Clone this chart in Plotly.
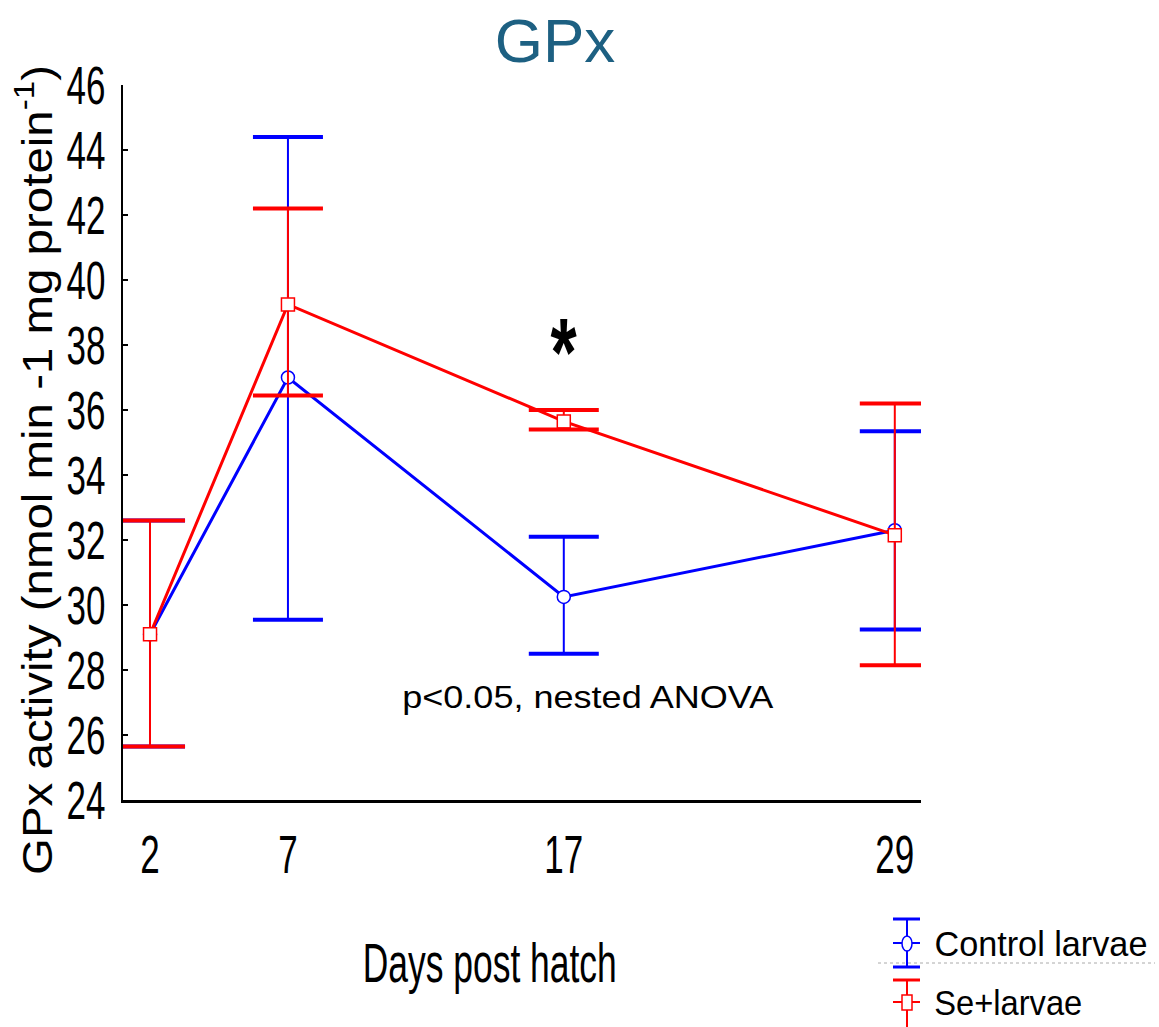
import plotly.graph_objects as go

# ---------------- data ----------------
days = [2, 7, 17, 29]
day_labels = ["2", "7", "17", "29"]

ctrl_mean = [29.1, 37.0, 30.25, 32.3]
ctrl_upper = [32.6, 44.4, 32.1, 35.35]
ctrl_lower = [25.65, 29.55, 28.5, 29.25]

se_mean = [29.1, 39.25, 35.65, 32.15]
se_upper = [32.6, 42.2, 36.0, 36.2]
se_lower = [25.65, 36.45, 35.4, 28.15]

y_ticks = list(range(24, 47, 2))
grid_ticks = list(range(26, 45, 2))
x_minor_ticks = [2, 11, 20, 29]

BLUE = "#0000FF"
RED = "#FF0000"
ARIAL = "Liberation Sans, Arial, sans-serif"

W, H = 1159, 1027
L, R, T, B = 123, 921, 85, 800


def px(x):
    return (x - L) / (R - L)


def py(y):
    return (B - y) / (B - T)


fig = go.Figure()


def add_group(mean, upper, lower, color, symbol, name):
    plus = [u - m for u, m in zip(upper, mean)]
    minus = [m - l for m, l in zip(mean, lower)]
    fig.add_trace(go.Scatter(
        x=days, y=mean, mode="lines+markers", name=name,
        line=dict(color=color, width=3),
        marker=dict(symbol=symbol, size=13, color="white",
                    line=dict(color=color, width=1.5)),
        error_y=dict(type="data", symmetric=False, array=plus, arrayminus=minus,
                     color=color, thickness=2, width=0),
        showlegend=False,
    ))
    fig.add_trace(go.Scatter(
        x=days + days, y=upper + lower, mode="markers",
        marker=dict(symbol="line-ew", size=50, color=color,
                    line=dict(color=color, width=4)),
        showlegend=False, hoverinfo="skip",
    ))


add_group(ctrl_mean, ctrl_upper, ctrl_lower, BLUE, "circle", "Control larvae")
add_group(se_mean, se_upper, se_lower, RED, "square", "Se+larvae")

# ---------------- annotations ----------------
ann = []


def text_at(x, y, text, size, **kw):
    d = dict(x=px(x), y=py(y), xref="paper", yref="paper", text=text,
             showarrow=False, xanchor="center", yanchor="middle",
             font=dict(family=ARIAL, size=size, color="black"))
    d.update(kw)
    ann.append(d)


ann.append(dict(x=17, y=37.8, xref="x", yref="y", text="<b>*</b>", showarrow=False,
                font=dict(family=ARIAL, size=96, color="black"),
                xanchor="center", yanchor="middle"))
text_at(588, 697, "p<0.05, nested ANOVA", 32)
text_at(490, 962, "Days post hatch", 56)
text_at(34, 470, "GPx activity (nmol min -1 mg protein<sup>-1</sup>)", 43, textangle=-90)
# legend texts
text_at(934 + 213 / 2, 943, "Control larvae", 35, borderpad=0)
text_at(934 + 148 / 2, 1002, "Se+larvae", 35, borderpad=0)

# ---------------- legend glyphs ----------------
shapes = []


def seg(x0, y0, x1, y1, color, width, dash=None):
    d = dict(type="line", xref="paper", yref="paper",
             x0=px(x0), y0=py(y0), x1=px(x1), y1=py(y1),
             line=dict(color=color, width=width))
    if dash:
        d["line"]["dash"] = dash
    shapes.append(d)


# blue glyph
seg(907, 919, 907, 967, BLUE, 2)
seg(893, 919, 920, 919, BLUE, 3)
seg(893, 967, 920, 967, BLUE, 3)
seg(893, 943, 920, 943, BLUE, 2)
shapes.append(dict(type="circle", xref="paper", yref="paper",
                   x0=px(902), x1=px(912), y0=py(936), y1=py(951),
                   fillcolor="white", line=dict(color=BLUE, width=1.5)))
# red glyph
seg(907, 980, 907, 1027, RED, 2)
seg(893, 980, 920, 980, RED, 3)
seg(893, 1002, 920, 1002, RED, 2)
shapes.append(dict(type="rect", xref="paper", yref="paper",
                   x0=px(902), x1=px(912), y0=py(995), y1=py(1010),
                   fillcolor="white", line=dict(color=RED, width=1.5)))
# dotted separator
seg(878, 963, 1155, 963, "#aaaaaa", 1, "dot")

fig.update_layout(
    width=W, height=H,
    margin=dict(l=L, r=W - R, t=T, b=H - B, pad=0),
    paper_bgcolor="white", plot_bgcolor="white",
    title=dict(text="GPx", x=555 / W, xanchor="center", y=1 - 40 / H, yanchor="middle",
               font=dict(family=ARIAL, size=62, color="#1D6082")),
    xaxis=dict(range=[1.02, 29.95], tickmode="array", tickvals=days, ticktext=day_labels,
               ticks="", showgrid=False, zeroline=False, showline=True,
               linecolor="black", linewidth=3, ticklabelstandoff=6,
               tickfont=dict(family=ARIAL, size=53, color="black")),
    xaxis2=dict(range=[1.02, 29.95], overlaying="x", anchor="y", side="bottom",
                tickmode="array", tickvals=x_minor_ticks, ticks="inside", ticklen=6,
                tickwidth=1.5, tickcolor="black", showticklabels=False,
                showgrid=False, zeroline=False, showline=False),
    yaxis=dict(range=[24, 46], tickmode="array", tickvals=y_ticks,
               ticks="inside", ticklen=5, tickwidth=2, tickcolor="black",
               showgrid=False, zeroline=False, showline=True,
               linecolor="black", linewidth=2, ticklabelstandoff=5,
               tickfont=dict(family=ARIAL, size=53, color="black")),
    yaxis2=dict(range=[24, 46], overlaying="y", anchor="x", side="left",
                tickmode="array", tickvals=grid_ticks, ticks="", showticklabels=False,
                showgrid=True, gridcolor="#c8c8c8", griddash="dot", gridwidth=1,
                zeroline=False, showline=False),
    annotations=ann,
    shapes=shapes,
)

# The reference uses a horizontally condensed face; squeeze the glyphs of the
# tick labels and some texts to the widths seen in the reference.
squeeze_js = """
var gd = document.getElementById('{plot_id}');
function fit(el, target){
  if(!el) return;
  var w = el.getComputedTextLength();
  if(!(w > 0)) return;
  var t = target < 2 ? w * target : target;
  el.setAttribute('textLength', t.toFixed(1));
  el.setAttribute('lengthAdjust', 'spacingAndGlyphs');
}
gd.querySelectorAll('g.ytick text, g.xtick text').forEach(function(el){ fit(el, 0.66); });
var targets = {"0": 0.7, "1": 371, "2": 254, "3": 810, "4": 213, "5": 148};
Object.keys(targets).forEach(function(k){
  fit(gd.querySelector('g.annotation[data-index="' + k + '"] text.annotation-text'), targets[k]);
});
"""

fig.write_html("out.html", post_script=squeeze_js)
